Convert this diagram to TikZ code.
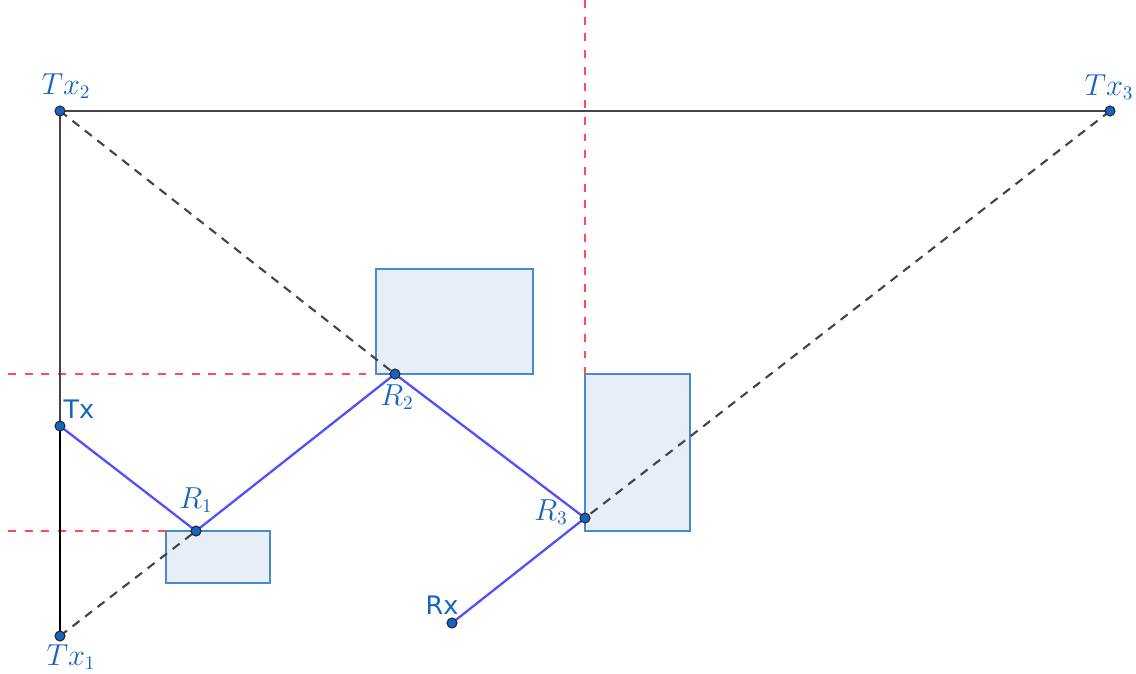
\documentclass[tikz,border=0pt]{standalone}
\usepackage{fontspec}
\newfontfamily\labelsans{DejaVu Sans}
\usetikzlibrary{positioning}
\definecolor{ptblue}{RGB}{21,101,192}
\definecolor{raycol}{RGB}{80,80,255}
\definecolor{guidered}{RGB}{255,77,77}
\definecolor{boxfill}{RGB}{230,238,248}
\definecolor{boxline}{RGB}{74,137,208}
\definecolor{edgegray}{RGB}{68,68,68}

\begin{document}
\begin{tikzpicture}[x=0.02cm,y=-0.02cm,
    pt/.style = {circle, fill=ptblue, draw=black!85, line width=0.6pt,
                 inner sep=0pt, minimum size=0.2cm},
    mlbl/.style = {text=ptblue, inner sep=0pt, font=\fontsize{16}{19}\selectfont},
    slbl/.style = {mlbl, font=\labelsans\fontsize{14.5}{17}\selectfont},
    ray/.style = {raycol, line width=1.3pt},
    wall/.style = {edgegray, line width=1.3pt},
    mirror/.style = {edgegray, line width=1.2pt, dash pattern=on 5pt off 4pt},
    guide/.style = {guidered, line width=1.2pt, dash pattern=on 4.5pt off 5pt},
    obstacle/.style = {fill=boxfill, draw=boxline, line width=1.3pt}]
  \useasboundingbox (0,0) rectangle (1136,673);

  % obstacles
  \draw[obstacle] (166,531) rectangle (270,583);
  \draw[obstacle] (376,269) rectangle (533,374);
  \draw[obstacle] (585,374) rectangle (690,531);

  % guide lines
  \coordinate (gv) at (585,0);
  \coordinate (gva) at (585,374);
  \coordinate (gh1) at (8,374);
  \coordinate (gh1a) at (376,374);
  \coordinate (gh2) at (8,531);
  \coordinate (gh2a) at (166,531);
  \draw[guide] (gv) -- (gva);
  \draw[guide] (gh1) -- (gh1a);
  \draw[guide] (gh2) -- (gh2a);

  % points
  \coordinate (tx2) at (60,111);
  \coordinate (tx3) at (1110,111);
  \coordinate (tx) at (60,426);
  \coordinate (tx1) at (60,636);
  \coordinate (r1) at (196,531);
  \coordinate (r2) at (395,374);
  \coordinate (r3) at (585,518);
  \coordinate (rx) at (452,623);

  % image sources
  \draw[wall] (tx2) -- (tx3);
  \draw[wall] (tx2) -- (tx1);
  \draw[wall, black] (tx) -- (tx1);
  \draw[mirror] (tx2) -- (r2);
  \draw[mirror] (tx1) -- (r1);
  \draw[mirror] (tx3) -- (r3);

  % ray path
  \draw[ray] (tx) -- (r1) -- (r2) -- (r3) -- (rx);

  \foreach \p in {tx2,tx3,tx,tx1,r1,r2,r3,rx}
    \node[pt] (\p n) at (\p) {};

  % labels
  \node[mlbl] (tx2l) at ([shift={(6,-25)}]tx2) {$Tx_2$};
  \node[mlbl] (tx3l) at ([shift={(-1,-24)}]tx3) {$Tx_3$};
  \node[mlbl] (tx1l) at ([shift={(11,21)}]tx1) {$Tx_1$};
  \node[slbl] (txl) at ([shift={(19,-17)}]tx) {Tx};
  \node[mlbl] (r1l) at ([shift={(0,-31)}]r1) {$R_1$};
  \node[mlbl] (r2l) at ([shift={(2,23)}]r2) {$R_2$};
  \node[mlbl] (r3l) at ([shift={(-34,-6)}]r3) {$R_3$};
  \node[slbl] (rxl) at ([shift={(-10,-18)}]rx) {Rx};
\end{tikzpicture}
\end{document}
